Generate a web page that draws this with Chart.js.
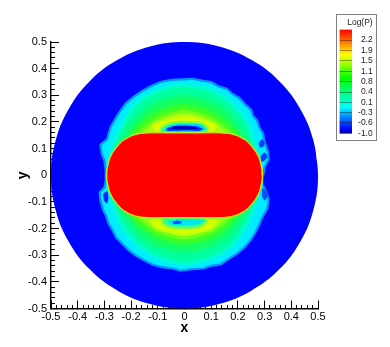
<!DOCTYPE html>
<html><head><meta charset="utf-8">
<script src="https://cdn.jsdelivr.net/npm/chart.js@4"></script>
<style>
html,body{margin:0;padding:0;background:#fff;width:390px;height:347px;overflow:hidden}
#main{position:absolute;left:0;top:0;filter:blur(.45px)}
#box{position:absolute;left:336px;top:14px;width:41px;height:127px;box-sizing:border-box;outline:1px solid #808080;outline-offset:-1px;filter:blur(.35px)}
#bar{position:absolute;left:0;top:0}
</style></head><body>
<canvas id="main" width="390" height="347"></canvas>
<div id="box"><canvas id="bar" width="41" height="127"></canvas></div>
<script>
const discX=[.5,.483,.433,.354,.25,.129,0,-.129,-.25,-.354,-.433,-.483,-.5,-.483,-.433,-.354,-.25,-.129,0,.129,.25,.354,.433,.483,.5,.483];
const discY=[0,.129,.25,.354,.433,.483,.5,.483,.433,.354,.25,.129,0,-.129,-.25,-.354,-.433,-.483,-.5,-.483,-.433,-.354,-.25,-.129,0,.129];
const edgeX=[.295,.30,.315,.312,.305,.298,.295,.28,.272,.255,.25,.228,.205,.18,.158,.125,.1,.065,.03,-.01,-.05,-.09,-.125,-.16,-.19,-.22,-.245,-.26,-.275,-.285,-.29,-.315,-.31,-.3,-.295,-.295,-.3,-.318,-.315,-.305,-.295,-.285,-.27,-.255,-.235,-.21,-.185,-.15,-.12,-.085,-.045,-.015,.03,.07,.1,.135,.165,.195,.225,.25,.265,.28,.29,.31,.315,.305,.295];
const edgeY=[0,.03,.06,.09,.11,.13,.155,.18,.205,.225,.245,.265,.29,.305,.325,.335,.35,.355,.362,.36,.358,.35,.335,.315,.295,.27,.235,.21,.185,.155,.135,.115,.08,.055,.02,-.02,-.045,-.065,-.095,-.13,-.15,-.18,-.205,-.235,-.255,-.28,-.3,-.32,-.335,-.345,-.35,-.358,-.352,-.35,-.34,-.335,-.315,-.295,-.27,-.24,-.215,-.185,-.16,-.125,-.09,-.06,-.04];
const springX=[.28,.272,.258,.245,.222,.192,.152,.105,.05,0,-.05,-.1,-.15,-.19,-.222,-.245,-.265,-.28,-.28,-.265,-.245,-.218,-.18,-.14,-.095,-.04,.02,.08,.135,.175,.212,.24,.26,.272];
const springY=[0,.08,.125,.175,.218,.255,.292,.318,.332,.337,.332,.318,.292,.258,.21,.165,.115,.05,-.05,-.12,-.17,-.215,-.255,-.285,-.31,-.326,-.33,-.318,-.295,-.265,-.22,-.17,-.12,-.07];
const greenX=[.26,.25,.225,.195,.16,.115,.06,0,-.06,-.115,-.16,-.195,-.225,-.25,-.26,-.25,-.225,-.195,-.16,-.115,-.06,0,.06,.115,.16,.195,.225,.25];
const greenY=[0,.095,.15,.195,.24,.27,.29,.297,.29,.27,.235,.195,.15,.095,0,-.095,-.15,-.19,-.23,-.26,-.28,-.288,-.28,-.26,-.23,-.19,-.15,-.095];
const limeX=[.22,.2,.175,.14,.1,.05,0,-.05,-.1,-.14,-.175,-.2,-.22,-.2,-.175,-.14,-.1,-.05,0,.05,.1,.14,.175,.2];
const limeY=[0,.155,.185,.215,.24,.258,.265,.258,.24,.215,.185,.155,0,-.155,-.185,-.21,-.235,-.25,-.257,-.25,-.235,-.21,-.18,-.155];
const oliveX=[.18,.17,.145,.11,.07,.03,0,-.03,-.07,-.11,-.145,-.17,-.18,-.17,-.145,-.11,-.07,-.03,0,.03,.07,.11,.145,.17];
const oliveY=[0,.155,.18,.205,.225,.236,.24,.236,.225,.205,.18,.155,0,-.155,-.18,-.205,-.22,-.232,-.235,-.232,-.22,-.205,-.18,-.155];
const yellowTopX=[.09,.12,.08,.03,0,-.03,-.08,-.12,-.09];
const yellowTopY=[.15,.185,.205,.218,.22,.218,.205,.185,.15];
const yellowLowX=[.13,.11,.05,0,-.05,-.11,-.13];
const yellowLowY=[-.15,-.195,-.215,-.222,-.215,-.195,-.15];
const haloTopX=[.09,.065,.02,-.03,-.07,-.09,-.07,0,.07];
const haloTopY=[.175,.195,.2,.2,.19,.17,.15,.15,.15];
const iceTopX=[.08,.06,.02,-.03,-.065,-.075,-.05,0,.06];
const iceTopY=[.175,.19,.193,.192,.182,.17,.162,.162,.163];
const blueTopX=[.072,.05,.02,-.03,-.062,-.068,-.04,0,.05];
const blueTopY=[.172,.183,.186,.186,.178,.168,.167,.168,.166];
const navyTopX=[-.04,-.02,.03,.05,.02,-.03,-.055];
const navyTopY=[.183,.185,.182,.175,.172,.173,.175];
const haloLowX=[.085,.06,0,-.06,-.085,-.06,0,.06];
const haloLowY=[-.172,-.193,-.198,-.193,-.172,-.15,-.15,-.15];
const iceLowX=[.08,.05,0,-.05,-.06,-.02,.04];
const iceLowY=[-.172,-.183,-.188,-.185,-.172,-.165,-.165];
const blueLowX=[-.045,-.025,-.01,-.025,-.042];
const blueLowY=[-.175,-.17,-.177,-.183,-.182];
const holeAX=[.278,.29,.3,.292,.28];
const holeAY=[.12,.135,.12,.105,.105];
const holeBX=[.285,.3,.31,.3,.288];
const holeBY=[.07,.085,.07,.055,.05];
const holeCX=[-.305,-.29,-.285,-.29,-.302];
const holeCY=[-.07,-.06,-.08,-.105,-.095];
const holeDX=[.29,.305,.312,.3,.29];
const holeDY=[-.05,-.055,-.075,-.095,-.08];
const capsuleX=[.291,.29,.281,.268,.25,.23,.2,.17,.13,.07,0,-.07,-.13,-.17,-.2,-.23,-.25,-.268,-.281,-.29,-.291,-.29,-.281,-.268,-.25,-.23,-.2,-.17,-.13,-.07,0,.07,.13,.17,.2,.23,.25,.268,.281,.29,.291,.29];
const capsuleY=[0,.02,.06,.086,.11,.13,.147,.156,.159,.159,.159,.159,.159,.156,.147,.13,.11,.086,.06,.02,0,-.02,-.06,-.086,-.11,-.13,-.147,-.156,-.159,-.159,-.159,-.159,-.159,-.156,-.147,-.13,-.11,-.086,-.06,-.02,0,.02];
const barStops=[-1,-.85,-.45,-.1,.4,.9,1.4,1.7,2.1,2.56];
const barColors=['#000090','#0000ff','#0080ff','#00ffff','#00ff80','#00ff00','#a0ff00','#ffff00','#ff8000','#ff0000'];
const levelValues=[-1,-.64,-.29,.07,.42,.78,1.13,1.49,1.84,2.2];
const levelLabels=['-1.0','-0.6','-0.3','0.1','0.4','0.8','1.1','1.5','1.9','2.2'];
const axisMajorStep=.1, axisMinorStep=.02;

const layers=[
 [discX,discY,'#0004ff',.4],
 [edgeX,edgeY,'#00ecff',0,2.2,'#0a90ff'],[holeAX,holeAY,'#0040ff',.3],[holeBX,holeBY,'#0040ff',.3],[holeCX,holeCY,'#0020ff',.3],[holeDX,holeDY,'#0050ff',.3],
 [springX,springY,'#00ffa0',.3,4,'#00fcd0'],[greenX,greenY,'#14ff60',.4,4,'#0aff80'],[limeX,limeY,'#40ff20',.4,3,'#28ff40'],[oliveX,oliveY,'#a4ff10',.3,3,'#70ff18'],
 [yellowTopX,yellowTopY,'#dcff00',.4,2,'#c0ff0a'],[yellowLowX,yellowLowY,'#d4ff00',.4,2,'#bcff0a'],
 [haloTopX,haloTopY,'#30ff80',.4,2,'#80ff40'],[haloLowX,haloLowY,'#30ff90',.4,2,'#80ff40'],[iceTopX,iceTopY,'#00d8ff',.4],[iceLowX,iceLowY,'#00e8e8',.4],
 [blueTopX,blueTopY,'#0030ff',.4],[blueLowX,blueLowY,'#0050ff',.3],[navyTopX,navyTopY,'#0000c0',.4],
 [capsuleX,capsuleY,'#60ff30',.2,2],[capsuleX,capsuleY,'#ff0000',.2,1,'#f0e800']
];
const datasets=layers.map((l,i)=>({
  data:l[0].map((x,j)=>({x,y:l[1][j]})),
  showLine:true,pointRadius:0,fill:'shape',tension:l[3],
  backgroundColor:l[2],borderColor:l[5]||l[2],borderWidth:l[4]||0,
  order:layers.length-i,xAxisID:'x',yAxisID:'y'
}));
const fmt=v=>{const r=Math.round(v*10)/10;return r===0?'0':r.toFixed(1)};
const font={family:'"Liberation Sans",Arial,sans-serif',size:11};
const bold={family:'"Liberation Sans",Arial,sans-serif',size:14,weight:'bold'};
new Chart(document.getElementById('main'),{
 type:'scatter',data:{datasets},
 options:{responsive:false,animation:false,
  layout:{padding:{left:0,right:72,top:42,bottom:0}},
  plugins:{legend:{display:false},tooltip:{enabled:false}},
  scales:{
   x:{type:'linear',min:-.5,max:.5,position:'bottom',
     afterFit:s=>{s.height=38.5},
     ticks:{stepSize:axisMajorStep,callback:fmt,color:'#000',font,padding:10,maxRotation:0,autoSkip:false},
     grid:{drawOnChartArea:false,tickLength:-8,color:'#000',tickWidth:1},
     border:{display:true,color:'#000',width:1.4},
     title:{display:true,text:'x',color:'#000',font:bold,padding:{top:0,bottom:10}}},
   y:{type:'linear',min:-.5,max:.5,position:'left',
     afterFit:s=>{s.width=51},
     ticks:{stepSize:axisMajorStep,callback:fmt,color:'#000',font,padding:12,autoSkip:false},
     grid:{drawOnChartArea:false,tickLength:-8,color:'#000',tickWidth:1},
     border:{display:true,color:'#000',width:1.4},
     title:{display:true,text:'y',color:'#000',font:bold,padding:{top:15,bottom:0}}},
   x2:{type:'linear',axis:'x',min:-.5,max:.5,position:{y:-.5},
     afterFit:s=>{s.height=0},
     ticks:{display:false,stepSize:axisMinorStep,autoSkip:false},
     grid:{drawOnChartArea:false,tickLength:-4,color:'#000',tickWidth:1},border:{display:false}},
   y2:{type:'linear',axis:'y',min:-.5,max:.5,position:{x:-.5},
     afterFit:s=>{s.width=0},
     ticks:{display:false,stepSize:axisMinorStep,autoSkip:false},
     grid:{drawOnChartArea:false,tickLength:-4,color:'#000',tickWidth:1},border:{display:false}}
  }}
});

const small={family:'"Liberation Sans",Arial,sans-serif',size:8.5,weight:'normal'};
new Chart(document.getElementById('bar'),{
 type:'bar',
 data:{labels:['Log(P)'],datasets:[{data:[[barStops[0],barStops[barStops.length-1]]],barPercentage:1,categoryPercentage:1,
   backgroundColor:c=>{
     const y=c.chart.scales.y;
     const a=y?y.getPixelForValue(barStops[0]):NaN, b=y?y.getPixelForValue(barStops[barStops.length-1]):NaN;
     if(!isFinite(a)||!isFinite(b))return barColors[0];
     const g=c.chart.ctx.createLinearGradient(0,a,0,b);
     barStops.forEach((v,i)=>g.addColorStop((v-barStops[0])/(barStops[barStops.length-1]-barStops[0]),barColors[i]));
     return g;}}]},
 options:{responsive:false,animation:false,
  layout:{padding:{left:3.5,right:4.3,top:0,bottom:7.5}},
  plugins:{legend:{display:false},tooltip:{enabled:false},
    title:{display:true,text:'Log(P)',align:'end',color:'#222',font:small,padding:{top:4,bottom:1.3}}},
  scales:{
   x:{display:false},
   y:{position:'right',min:barStops[0],max:barStops[barStops.length-1],
     afterFit:s=>{s.width=20.7},
     afterBuildTicks:s=>{s.ticks=levelValues.map(value=>({value}))},
     ticks:{callback:(v,i)=>levelLabels[i],color:'#222',font:small,crossAlign:'far',padding:0,autoSkip:false},
     grid:{z:1,drawTicks:false,color:'rgba(20,20,20,.5)',lineWidth:.8},
     border:{display:false}}
  }}
});
</script>
</body></html>
